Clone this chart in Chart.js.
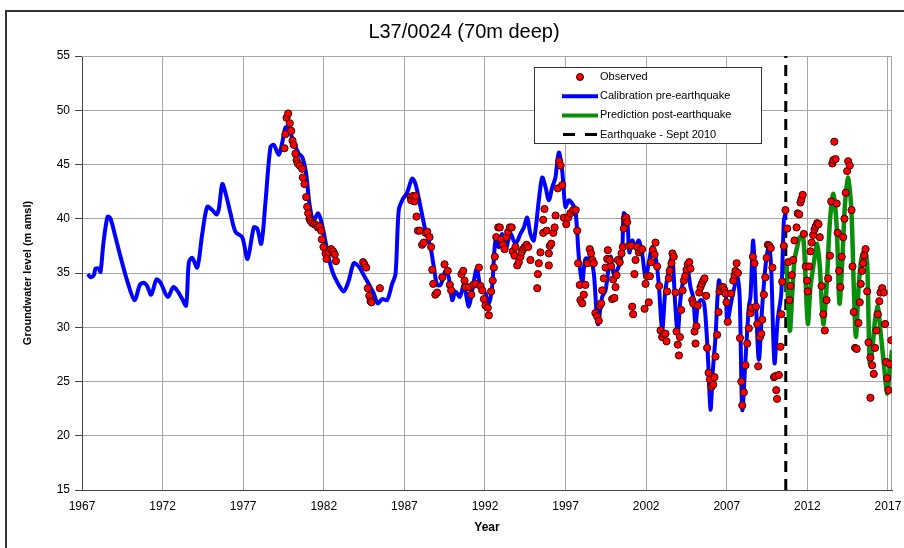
<!DOCTYPE html>
<html>
<head>
<meta charset="utf-8">
<script src="https://cdn.jsdelivr.net/npm/chart.js@4.4.1/dist/chart.umd.min.js"></script>
<style>
  html, body { margin: 0; padding: 0; background: #fff; overflow: hidden; }
  #wrap { position: relative; width: 904px; height: 548px; }
  #frame {
    position: absolute; left: 5px; top: 10px; width: 1000px; height: 1000px;
    border-left: 2px solid #333; border-top: 2px solid #333; pointer-events: none;
  }
</style>
</head>
<body>
<div id="wrap">
  <canvas id="chart" width="904" height="548"></canvas>
  <div id="frame"></div>
</div>
<script>
const chartTitle = "L37/0024 (70m deep)";
const yearTicks = [1967, 1972, 1977, 1982, 1987, 1992, 1997, 2002, 2007, 2012, 2017];
const quakeYear = 2010.66;

// calibration model, pre-earthquake
const calYears = [1967.36, 1967.53, 1967.73, 1967.84, 1968.04, 1968.15, 1968.31, 1968.46, 1968.6, 1968.77,
  1969.08, 1969.39, 1969.8, 1970.26, 1970.59, 1970.84, 1971.04, 1971.29, 1971.62, 1971.87,
  1972.32, 1972.66, 1972.9, 1973.22, 1973.46, 1973.63, 1973.84, 1974.15, 1974.46, 1974.77,
  1975.08, 1975.35, 1975.49, 1975.7, 1975.9, 1976.21, 1976.52, 1976.94, 1977.27, 1977.66,
  1977.87, 1978.12, 1978.38, 1978.69, 1978.9, 1979.21, 1979.42, 1979.62, 1979.83, 1980.14,
  1980.45, 1980.66, 1980.9, 1981.1, 1981.35, 1981.65, 1981.9, 1982.21, 1982.52, 1982.93,
  1983.24, 1983.55, 1983.86, 1984.17, 1984.48, 1984.79, 1985.1, 1985.35, 1985.62, 1985.93,
  1986.24, 1986.45, 1986.65, 1986.9, 1987.17, 1987.48, 1987.69, 1988.0, 1988.31, 1988.62,
  1988.82, 1989.03, 1989.24, 1989.55, 1989.75, 1989.97, 1990.17, 1990.44, 1990.69, 1991.0,
  1991.3, 1991.5, 1991.72, 1992.03, 1992.24, 1992.44, 1992.65, 1992.86, 1993.07, 1993.27,
  1993.58, 1993.89, 1994.2, 1994.41, 1994.62, 1994.82, 1995.03, 1995.34, 1995.55, 1995.76,
  1995.96, 1996.17, 1996.37, 1996.58, 1996.79, 1996.99, 1997.2, 1997.41, 1997.61, 1997.82,
  1998.03, 1998.23, 1998.54, 1998.75, 1999.0, 1999.27, 1999.48, 1999.79, 1999.99, 2000.3,
  2000.51, 2000.61, 2000.82, 2000.96, 2001.13, 2001.34, 2001.54, 2001.75, 2001.96, 2002.16,
  2002.37, 2002.58, 2002.78, 2002.99, 2003.19, 2003.4, 2003.61, 2003.81, 2003.96, 2004.12,
  2004.33, 2004.54, 2004.75, 2004.91, 2005.06, 2005.2, 2005.37, 2005.58, 2005.74, 2005.85,
  2005.99, 2006.14, 2006.3, 2006.51, 2006.72, 2006.92, 2007.03, 2007.3, 2007.65, 2007.8,
  2007.96, 2008.16, 2008.37, 2008.47, 2008.64, 2008.82, 2008.99, 2009.2, 2009.4, 2009.61,
  2009.75, 2009.96, 2010.16, 2010.38, 2010.54, 2010.64];
const calLevels = [34.9, 34.6, 34.8, 35.4, 35.4, 35.1, 37.5, 39.2, 40.2, 40.0,
  38.3, 36.5, 34.3, 32.5, 33.9, 34.1, 33.8, 33.0, 34.4, 34.1,
  32.8, 33.7, 33.4, 32.6, 32.0, 36.0, 36.4, 35.5, 38.6, 41.1,
  40.8, 40.4, 40.9, 43.2, 42.4, 40.5, 38.8, 38.3, 36.3, 39.2,
  39.1, 37.7, 41.5, 46.6, 46.8, 45.9, 47.0, 48.4, 48.3, 47.0,
  46.0, 45.7, 44.2, 41.5, 39.8, 40.5, 39.4, 37.1, 35.2, 33.9,
  33.3, 34.3, 35.9, 35.6, 34.8, 34.0, 33.1, 32.2, 32.6, 32.5,
  34.0, 34.9, 40.8, 41.8, 42.4, 43.7, 43.2, 41.1, 38.9, 37.4,
  35.6, 33.9, 33.9, 35.2, 34.6, 32.5, 33.3, 32.8, 33.9, 31.9,
  34.2, 35.4, 33.7, 33.1, 32.2, 33.7, 38.0, 37.4, 38.6, 37.1,
  38.6, 37.7, 38.6, 39.2, 40.1, 38.6, 38.0, 41.7, 43.8, 42.9,
  41.7, 42.9, 43.8, 46.1, 44.4, 41.1, 41.7, 41.4, 40.8, 36.5,
  34.0, 36.3, 36.2, 35.0, 30.3, 32.8, 33.4, 36.5, 34.9, 35.6,
  37.1, 40.5, 39.8, 36.9, 38.0, 37.4, 38.0, 36.8, 34.6, 35.9,
  37.4, 36.5, 34.0, 29.7, 33.4, 35.2, 36.5, 31.9, 29.4, 32.5,
  34.6, 35.6, 33.7, 32.8, 30.3, 31.9, 32.5, 32.3, 29.7, 26.7,
  22.4, 26.1, 29.1, 34.3, 33.4, 33.4, 30.5, 32.5, 34.6, 32.8,
  22.4, 27.0, 31.9, 32.8, 38.0, 31.9, 27.0, 31.9, 35.6, 37.7,
  35.6, 26.7, 30.7, 33.1, 39.8, 40.5];

// prediction model, post-earthquake
const predYears = [2010.7, 2010.91, 2011.06, 2011.2, 2011.37, 2011.53, 2011.74, 2011.89, 2012.03, 2012.19,
  2012.4, 2012.61, 2012.77, 2012.99, 2013.19, 2013.4, 2013.61, 2013.82, 2013.99, 2014.15,
  2014.31, 2014.51, 2014.72, 2014.88, 2015.01, 2015.18, 2015.34, 2015.55, 2015.71, 2015.87,
  2016.04, 2016.2, 2016.37, 2016.53, 2016.74, 2016.95, 2017.11, 2017.26];
const predLevels = [36.2, 29.7, 33.1, 36.2, 37.4, 38.3, 38.3, 34.3, 30.3, 33.7,
  35.9, 37.7, 35.6, 30.3, 33.7, 39.8, 42.3, 39.2, 32.2, 35.6,
  40.8, 43.8, 41.1, 33.7, 29.1, 33.7, 36.2, 37.1, 35.9, 26.7,
  28.2, 30.7, 31.9, 29.7, 26.7, 23.9, 26.1, 27.9];

// observed levels
const obsYears = [1979.56, 1979.62, 1979.69, 1979.79, 1979.89, 1979.98, 1980.06, 1980.14, 1980.24, 1980.31,
  1980.39, 1980.51, 1980.66, 1980.7, 1980.8, 1980.91, 1980.97, 1981.03, 1981.11, 1981.18,
  1981.28, 1981.42, 1981.55, 1981.63, 1981.75, 1981.84, 1981.88, 1981.98, 1982.11, 1982.17,
  1982.31, 1982.46, 1982.58, 1982.68, 1982.75, 1984.44, 1984.52, 1984.63, 1984.73, 1984.82,
  1984.9, 1984.96, 1985.48, 1987.38, 1987.42, 1987.54, 1987.63, 1987.69, 1987.75, 1987.84,
  1987.96, 1988.1, 1988.2, 1988.31, 1988.42, 1988.56, 1988.66, 1988.73, 1988.79, 1988.92,
  1989.03, 1989.35, 1989.49, 1989.69, 1989.82, 1989.9, 1990.54, 1990.65, 1990.73, 1990.79,
  1991.0, 1991.15, 1991.27, 1991.41, 1991.62, 1991.72, 1991.83, 1991.93, 1992.03, 1992.17,
  1992.24, 1992.38, 1992.48, 1992.55, 1992.61, 1992.7, 1992.82, 1992.92, 1993.01, 1993.11,
  1993.21, 1993.33, 1993.44, 1993.54, 1993.66, 1993.72, 1993.83, 1993.89, 1994.0, 1994.1,
  1994.2, 1994.27, 1994.37, 1994.47, 1994.58, 1994.68, 1994.82, 1995.24, 1995.28, 1995.34,
  1995.44, 1995.61, 1995.61, 1995.69, 1995.82, 1995.96, 1995.96, 1996.02, 1996.11, 1996.24,
  1996.32, 1996.38, 1996.52, 1996.6, 1996.69, 1996.79, 1996.89, 1997.04, 1997.16, 1997.3,
  1997.47, 1997.63, 1997.72, 1997.78, 1997.88, 1997.92, 1998.03, 1998.13, 1998.23, 1998.37,
  1998.5, 1998.58, 1998.66, 1998.75, 1998.85, 1998.96, 1999.06, 1999.12, 1999.21, 1999.27,
  1999.37, 1999.48, 1999.58, 1999.62, 1999.74, 1999.83, 1999.89, 1999.95, 2000.03, 2000.1,
  2000.16, 2000.24, 2000.36, 2000.47, 2000.55, 2000.61, 2000.68, 2000.76, 2000.82, 2000.92,
  2001.07, 2001.13, 2001.19, 2001.27, 2001.34, 2001.44, 2001.54, 2001.65, 2001.75, 2001.9,
  2001.96, 2002.06, 2002.16, 2002.23, 2002.31, 2002.41, 2002.52, 2002.58, 2002.68, 2002.81,
  2002.89, 2002.99, 2003.09, 2003.2, 2003.26, 2003.3, 2003.4, 2003.46, 2003.57, 2003.63,
  2003.71, 2003.82, 2003.88, 2003.96, 2004.03, 2004.09, 2004.17, 2004.26, 2004.34, 2004.42,
  2004.5, 2004.58, 2004.67, 2004.75, 2004.86, 2004.92, 2005.0, 2005.06, 2005.12, 2005.2,
  2005.29, 2005.37, 2005.45, 2005.54, 2005.62, 2005.72, 2005.78, 2005.87, 2005.95, 2006.05,
  2006.16, 2006.24, 2006.3, 2006.4, 2006.49, 2006.55, 2006.65, 2006.78, 2006.86, 2006.92,
  2006.98, 2007.06, 2007.27, 2007.4, 2007.48, 2007.54, 2007.61, 2007.69, 2007.82, 2007.9,
  2007.96, 2008.06, 2008.16, 2008.27, 2008.37, 2008.47, 2008.53, 2008.62, 2008.72, 2008.81,
  2008.89, 2008.95, 2009.06, 2009.14, 2009.2, 2009.3, 2009.39, 2009.47, 2009.55, 2009.64,
  2009.73, 2009.83, 2009.93, 2010.02, 2010.07, 2010.12, 2010.23, 2010.33, 2010.38, 2010.44,
  2010.54, 2010.64, 2010.75, 2010.81, 2010.89, 2010.95, 2011.03, 2011.12, 2011.2, 2011.33,
  2011.4, 2011.49, 2011.57, 2011.63, 2011.71, 2011.78, 2011.9, 2011.98, 2012.03, 2012.11,
  2012.19, 2012.27, 2012.36, 2012.44, 2012.52, 2012.61, 2012.69, 2012.77, 2012.88, 2012.99,
  2013.08, 2013.19, 2013.29, 2013.4, 2013.48, 2013.55, 2013.61, 2013.67, 2013.75, 2013.82,
  2013.88, 2013.97, 2014.05, 2014.13, 2014.22, 2014.3, 2014.38, 2014.47, 2014.53, 2014.63,
  2014.74, 2014.8, 2014.88, 2014.96, 2015.06, 2015.17, 2015.25, 2015.31, 2015.39, 2015.46,
  2015.52, 2015.61, 2015.71, 2015.79, 2015.91, 2015.91, 2016.02, 2016.12, 2016.2, 2016.29,
  2016.37, 2016.46, 2016.53, 2016.64, 2016.74, 2016.82, 2016.88, 2016.95, 2017.03, 2017.11,
  2017.21];
const obsLevels = [46.5, 47.8, 49.3, 49.7, 48.8, 48.1, 47.2, 46.8, 46.0, 45.4,
  45.1, 44.9, 44.6, 43.8, 43.2, 42.0, 41.1, 40.5, 40.0, 39.8,
  39.6, 39.5, 39.4, 39.2, 39.3, 38.9, 38.1, 37.4, 36.8, 36.3,
  36.9, 37.2, 37.0, 36.7, 36.1, 36.0, 35.8, 35.5, 33.6, 32.9,
  32.4, 32.3, 33.6, 42.0, 41.7, 42.1, 41.6, 42.1, 40.2, 38.9,
  38.9, 37.6, 37.8, 38.7, 38.8, 38.3, 37.4, 35.3, 34.0, 33.0,
  33.2, 34.6, 35.8, 35.2, 33.9, 33.4, 34.9, 35.2, 34.3, 33.7,
  33.7, 33.0, 33.9, 34.0, 35.5, 33.8, 33.4, 32.6, 32.0, 31.8,
  31.1, 33.3, 34.3, 35.5, 36.5, 38.3, 39.2, 39.2, 38.1, 37.6,
  37.2, 38.3, 38.8, 39.2, 39.2, 37.0, 36.6, 37.4, 35.7, 36.0,
  36.5, 36.9, 37.2, 37.4, 37.6, 37.4, 36.2, 33.6, 34.9, 35.9,
  36.9, 38.7, 39.9, 40.9, 38.9, 35.7, 36.8, 37.5, 37.7, 38.7,
  39.2, 40.3, 42.8, 45.3, 44.9, 43.1, 40.1, 39.5, 40.1, 40.5,
  40.8, 40.8, 38.9, 35.9, 33.9, 32.5, 32.2, 33.0, 33.9, 35.9,
  37.2, 36.8, 36.2, 35.9, 31.3, 31.0, 30.6, 32.0, 32.2, 33.4,
  34.5, 35.5, 36.3, 37.1, 36.2, 35.6, 32.6, 34.4, 32.7, 33.7,
  34.8, 36.2, 36.0, 36.8, 37.4, 39.1, 40.0, 40.1, 39.7, 37.5,
  37.5, 31.9, 31.2, 34.9, 36.2, 37.4, 36.9, 37.1, 37.2, 31.7,
  34.0, 34.7, 32.3, 34.7, 36.0, 37.1, 36.7, 37.8, 35.6, 33.8,
  29.7, 29.1, 29.4, 29.4, 28.7, 33.3, 34.5, 35.2, 35.9, 36.8,
  36.5, 33.2, 29.6, 28.4, 27.4, 29.1, 31.6, 33.4, 34.3, 34.7,
  35.3, 35.8, 36.0, 35.4, 32.5, 32.2, 29.6, 28.5, 30.1, 32.0,
  33.2, 33.7, 34.0, 34.3, 34.5, 32.9, 28.1, 25.8, 25.2, 24.5,
  24.7, 25.4, 27.3, 29.3, 31.4, 33.3, 33.7, 33.7, 33.4, 33.1,
  32.3, 30.5, 33.1, 34.3, 34.8, 35.2, 35.9, 35.0, 29.0, 25.0,
  22.8, 24.0, 26.5, 28.5, 29.9, 31.3, 31.8, 36.5, 35.9, 31.9,
  30.3, 26.4, 29.1, 29.4, 30.7, 33.0, 34.6, 36.4, 37.6, 37.5,
  37.3, 35.5, 25.4, 25.5, 24.2, 23.4, 25.6, 28.2, 31.2, 34.2,
  37.5, 40.8, 39.1, 36.0, 32.5, 33.8, 34.8, 36.2, 38.0, 39.2,
  40.5, 40.4, 41.5, 41.8, 42.2, 38.6, 35.6, 34.3, 33.3, 35.6,
  37.0, 37.8, 38.5, 39.0, 39.3, 39.6, 39.5, 38.3, 33.8, 31.2,
  29.7, 32.5, 34.5, 36.6, 41.6, 45.1, 45.4, 47.1, 45.5, 41.4,
  38.7, 35.2, 33.7, 36.5, 38.3, 40.0, 42.4, 44.4, 45.3, 44.9,
  40.8, 35.6, 31.4, 28.1, 28.0, 30.4, 32.3, 34.0, 35.2, 35.9,
  36.6, 37.2, 33.3, 28.6, 27.2, 23.5, 26.5, 25.7, 28.1, 29.7,
  31.2, 32.4, 33.2, 33.6, 33.2, 30.3, 26.8, 25.3, 24.2, 26.6,
  28.8];

const toPoints = (xs, ys) => xs.map((x, i) => ({ x: x, y: ys[i] }));

const FONT = "'Liberation Sans', Arial, sans-serif";
Chart.defaults.font.family = FONT;
Chart.defaults.color = "#000";

const COLORS = {
  obs: "#ff0000",
  obsEdge: "#3a0000",
  cal: "#0000ff",
  pred: "#0a8f0a",
  quake: "#000000",
};

// title centred on the outer frame rather than on the canvas
const frameTitle = {
  id: "frameTitle",
  afterDraw(chart) {
    const ctx = chart.ctx;
    ctx.save();
    ctx.font = "20px " + FONT;
    ctx.fillStyle = "#000";
    ctx.textAlign = "center";
    ctx.textBaseline = "middle";
    ctx.fillText(chartTitle, 464, 32);
    ctx.restore();
  },
};

// legend box sitting inside the plot, like the original workbook chart
const boxLegend = {
  id: "boxLegend",
  afterDraw(chart) {
    const ctx = chart.ctx;
    const x = 534, y = 67, w = 227, h = 76;
    ctx.save();
    ctx.fillStyle = "#fff";
    ctx.fillRect(x, y, w, h);
    ctx.strokeStyle = "#333";
    ctx.lineWidth = 1;
    ctx.strokeRect(x + 0.5, y + 0.5, w, h);

    const rows = ["Observed", "Calibration pre-earthquake", "Prediction post-earthquake", "Earthquake - Sept 2010"];
    ctx.font = "11px " + FONT;
    ctx.textBaseline = "middle";
    rows.forEach((label, i) => {
      const ry = 77 + i * 19.2;
      if (i === 0) {
        ctx.beginPath();
        ctx.arc(580, ry, 3.5, 0, Math.PI * 2);
        ctx.fillStyle = COLORS.obs;
        ctx.fill();
        ctx.strokeStyle = COLORS.obsEdge;
        ctx.lineWidth = 1;
        ctx.stroke();
      } else if (i < 3) {
        ctx.beginPath();
        ctx.moveTo(562, ry);
        ctx.lineTo(598, ry);
        ctx.strokeStyle = i === 1 ? COLORS.cal : COLORS.pred;
        ctx.lineWidth = 4;
        ctx.stroke();
      } else {
        ctx.beginPath();
        ctx.moveTo(563, ry);
        ctx.lineTo(575, ry);
        ctx.moveTo(585, ry);
        ctx.lineTo(597, ry);
        ctx.strokeStyle = COLORS.quake;
        ctx.lineWidth = 3;
        ctx.stroke();
      }
      ctx.fillStyle = "#000";
      ctx.fillText(label, 600, ry);
    });
    ctx.restore();
  },
};

// thin grey frame round the plot area
const plotFrame = {
  id: "plotFrame",
  beforeDatasetsDraw(chart) {
    const a = chart.chartArea;
    const ctx = chart.ctx;
    ctx.save();
    ctx.strokeStyle = "#a6a6a6";
    ctx.lineWidth = 1;
    ctx.beginPath();
    ctx.moveTo(a.left, a.top + 0.5);
    ctx.lineTo(a.right - 0.5, a.top + 0.5);
    ctx.lineTo(a.right - 0.5, a.bottom);
    ctx.stroke();
    ctx.restore();
  },
};

new Chart(document.getElementById("chart"), {
  type: "scatter",
  data: {
    datasets: [
      {
        label: "Observed",
        data: toPoints(obsYears, obsLevels),
        showLine: false,
        pointRadius: 3.6,
        pointBackgroundColor: COLORS.obs,
        pointBorderColor: COLORS.obsEdge,
        pointBorderWidth: 1,
      },
      {
        label: "Calibration pre-earthquake",
        data: toPoints(calYears, calLevels),
        showLine: true,
        borderColor: COLORS.cal,
        borderWidth: 4,
        pointRadius: 0,
        tension: 0.3,
      },
      {
        label: "Prediction post-earthquake",
        data: toPoints(predYears, predLevels),
        showLine: true,
        borderColor: COLORS.pred,
        borderWidth: 4.5,
        pointRadius: 0,
        tension: 0.3,
      },
      {
        label: "Earthquake - Sept 2010",
        data: [{ x: quakeYear, y: 15 }, { x: quakeYear, y: 55 }],
        showLine: true,
        borderColor: COLORS.quake,
        borderWidth: 3,
        borderDash: [11, 7],
        pointRadius: 0,
      },
    ],
  },
  options: {
    responsive: false,
    animation: false,
    devicePixelRatio: 1,
    layout: { padding: { left: 17, right: 12, top: 56, bottom: 9 } },
    plugins: {
      legend: { display: false },
      tooltip: { enabled: false },
      title: { display: false },
    },
    scales: {
      x: {
        type: "linear",
        min: 1967,
        max: 2017.25,
        afterBuildTicks: (axis) => {
          axis.ticks = yearTicks.map((v) => ({ value: v }));
        },
        afterFit: (axis) => { axis.height = 49; },
        ticks: {
          callback: (v) => String(v),
          font: { size: 12 },
          padding: 2,
          maxRotation: 0,
        },
        grid: { color: "#a6a6a6", lineWidth: 1, drawTicks: true, tickLength: 7, tickColor: "rgba(0,0,0,0)" },
        border: { color: "#444", width: 1 },
        title: {
          display: true,
          text: "Year",
          font: { size: 12, weight: "bold" },
          padding: { top: 4, bottom: 4 },
        },
      },
      y: {
        min: 15,
        max: 55,
        afterFit: (axis) => { axis.width = 65; },
        ticks: { stepSize: 5, font: { size: 12 }, padding: 5 },
        grid: { color: "#a6a6a6", lineWidth: 1, tickLength: 7, tickColor: "#444" },
        border: { color: "#444", width: 1 },
        title: {
          display: true,
          text: "Groundwater level (m amsl)",
          font: { size: 11, weight: "bold" },
          padding: { top: 4, bottom: 4 },
        },
      },
    },
  },
  plugins: [plotFrame, boxLegend, frameTitle],
});
</script>
</body>
</html>
